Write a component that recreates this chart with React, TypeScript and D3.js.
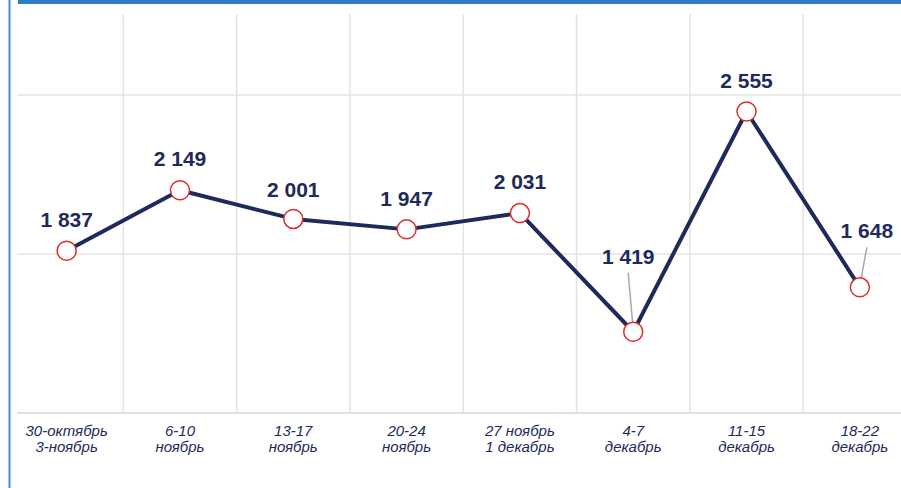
import { useEffect, useRef } from 'react';
import * as d3 from 'd3';

const WIDTH = 901;
const HEIGHT = 488;

const CATEGORIES = [
  ['30-октябрь', '3-ноябрь'],
  ['6-10', 'ноябрь'],
  ['13-17', 'ноябрь'],
  ['20-24', 'ноябрь'],
  ['27 ноябрь', '1 декабрь'],
  ['4-7', 'декабрь'],
  ['11-15', 'декабрь'],
  ['18-22', 'декабрь'],
];
const VALUES = [1837, 2149, 2001, 1947, 2031, 1419, 2555, 1648];
const Y_TICKS = [1000, 1820, 2640];

// label placement relative to the point: [dx, dy, leader line?]
const LABEL_POS: [number, number, boolean][] = [
  [0, -24, false],
  [0, -24, false],
  [0, -22, false],
  [0, -23, false],
  [0, -24, false],
  [-5, -68, true],
  [0, -23, false],
  [7, -49, true],
];

const NAVY = '#1f2a5c';
const RED = '#d9302e';
const GRID = '#e3e3e3';

export default function App() {
  const svgRef = useRef<SVGSVGElement>(null);

  useEffect(() => {
    const svg = d3.select(svgRef.current);
    svg.selectAll('*').remove();

    const x = d3.scaleBand<number>().domain(d3.range(CATEGORIES.length)).range([10, 916.5]).padding(0);
    const y = d3.scaleLinear().domain([1000, 2640]).range([413, 95]);
    const cx = (i: number) => (x(i) as number) + x.bandwidth() / 2;

    // frame
    svg.append('rect').attr('x', 18).attr('y', 0).attr('width', WIDTH - 18).attr('height', 4).attr('fill', '#2f7ec4');
    svg.append('line').attr('x1', 9.5).attr('x2', 9.5).attr('y1', 0).attr('y2', HEIGHT)
      .attr('stroke', '#4a8fd0').attr('stroke-width', 2);

    // vertical gridlines
    svg.append('g').selectAll('line')
      .data(d3.range(1, CATEGORIES.length))
      .join('line')
      .attr('x1', (d) => x(d) as number)
      .attr('x2', (d) => x(d) as number)
      .attr('y1', 14)
      .attr('y2', 413)
      .attr('stroke', GRID)
      .attr('stroke-width', 1.5);

    // horizontal gridlines
    svg.append('g').selectAll('line')
      .data(Y_TICKS)
      .join('line')
      .attr('x1', 17)
      .attr('x2', WIDTH)
      .attr('y1', (d) => y(d))
      .attr('y2', (d) => y(d))
      .attr('stroke', (d, i) => (i === 0 ? '#d6d6d6' : GRID))
      .attr('stroke-width', 1.5);

    // category labels
    const labels = svg.append('g');
    CATEGORIES.forEach((c, i) => {
      const t = labels.append('text')
        .attr('x', cx(i))
        .attr('y', 436)
        .attr('text-anchor', 'middle')
        .style('font-family', 'Liberation Sans, Arial, sans-serif')
        .style('font-style', 'italic')
        .style('font-size', '15px')
        .attr('fill', NAVY);
      t.append('tspan').attr('x', cx(i)).text(c[0]);
      t.append('tspan').attr('x', cx(i)).attr('dy', 16).text(c[1]);
    });

    // line
    const line = d3.line<number>().x((d, i) => cx(i)).y((d) => y(d));
    svg.append('path')
      .datum(VALUES)
      .attr('d', line)
      .attr('fill', 'none')
      .attr('stroke', NAVY)
      .attr('stroke-width', 4)
      .attr('stroke-linejoin', 'round');

    // leader lines
    VALUES.forEach((v, i) => {
      const [dx, dy, leader] = LABEL_POS[i];
      if (!leader) return;
      svg.append('line')
        .attr('x1', cx(i) + dx)
        .attr('y1', y(v) + dy + 9)
        .attr('x2', cx(i))
        .attr('y2', y(v) - 2)
        .attr('stroke', '#a8a8a8')
        .attr('stroke-width', 1.5);
    });

    // markers
    svg.append('g').selectAll('circle')
      .data(VALUES)
      .join('circle')
      .attr('cx', (d, i) => cx(i))
      .attr('cy', (d) => y(d))
      .attr('r', 9.5)
      .attr('fill', '#fff')
      .attr('stroke', RED)
      .attr('stroke-width', 1.5);

    // value labels
    svg.append('g').selectAll('text')
      .data(VALUES)
      .join('text')
      .attr('x', (d, i) => cx(i) + LABEL_POS[i][0])
      .attr('y', (d, i) => y(d) + LABEL_POS[i][1])
      .attr('text-anchor', 'middle')
      .style('font-family', 'Liberation Sans, Arial, sans-serif')
      .style('font-weight', 'bold')
      .style('font-size', '21px')
      .attr('fill', NAVY)
      .text((d) => d3.format(',')(d).replace(',', ' '));
  }, []);

  return (
    <div style={{ position: 'absolute', left: 0, top: 0 }}>
      <svg ref={svgRef} width={WIDTH} height={HEIGHT} style={{ display: 'block', background: '#fff' }} />
    </div>
  );
}
